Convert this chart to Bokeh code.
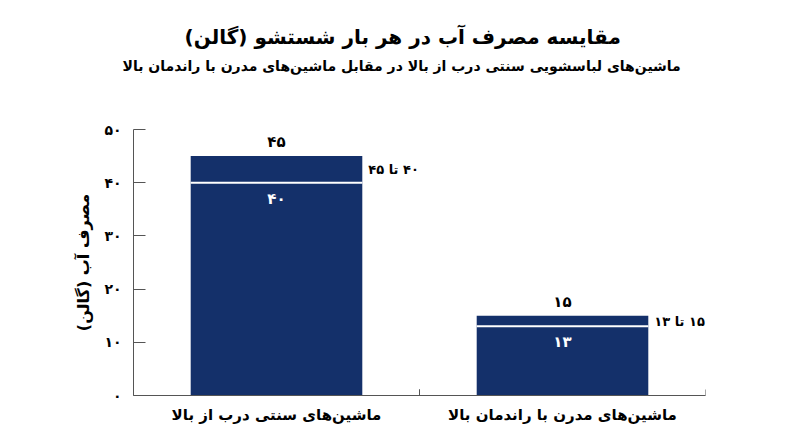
from bokeh.plotting import figure
from bokeh.models import ColumnDataSource, FactorRange, Range1d, FixedTicker, Title
from bokeh.transform import dodge
from bokeh.embed import file_html
from bokeh.resources import INLINE
from bokeh.core.properties import value

# ---------------- data ----------------
categories = ["ماشین‌های سنتی درب از بالا", "ماشین‌های مدرن با راندمان بالا"]
low_values = [40, 13]
high_values = [45, 15]
range_labels = ["۴۰ تا ۴۵", "۱۵ تا ۱۳"]
y_ticks = [0, 10, 20, 30, 40, 50]

title_text = "مقایسه مصرف آب در هر بار شستشو (گالن)"
subtitle_text = "ماشین‌های لباسشویی سنتی درب از بالا در مقابل ماشین‌های مدرن با راندمان بالا"
y_label = "مصرف آب (گالن)"

FA = str.maketrans("0123456789", "۰۱۲۳۴۵۶۷۸۹")
def fa(n):
    return str(n).translate(FA)

RLE, PDF = "\u202b", "\u202c"
def rtl(s):
    return RLE + s + PDF

FONT = "DejaVu Sans"
NAVY = "#14306a"
AXIS = "#555555"

src = ColumnDataSource(dict(
    cat=categories,
    low=low_values,
    high=high_values,
    zero=[0] * len(categories),
    mid=[(a + b) / 2 for a, b in zip(low_values, high_values)],
    low_lbl=[fa(v) for v in low_values],
    high_lbl=[fa(v) for v in high_values],
    rng_lbl=[rtl(s) for s in range_labels],
))

p = figure(width=784, height=431, x_range=FactorRange(*categories),
           y_range=Range1d(0, 50), output_backend="svg", toolbar_location=None,
           title=None, min_border_left=133, min_border_right=79,
           min_border_bottom=36, min_border_top=129)
p.outline_line_color = None
p.xgrid.visible = False
p.ygrid.visible = False
p.background_fill_color = "white"
p.border_fill_color = "white"

# titles (spacer nearest the frame, then subtitle, then title)
spacer = Title(text=" ", text_font=FONT, text_font_size="10px", standoff=39)
sub = Title(text=subtitle_text, align="left", offset=-11, text_font=FONT,
            text_font_size="14px", text_font_style="bold", text_color="black", standoff=7)
ttl = Title(text=rtl(title_text), align="left", offset=51, text_font=FONT,
            text_font_size="20px", text_font_style="bold", text_color="black", standoff=7)
p.add_layout(spacer, "above")
p.add_layout(sub, "above")
p.add_layout(ttl, "above")

# y axis
ya = p.yaxis[0]
ya.ticker = FixedTicker(ticks=y_ticks)
ya.major_label_overrides = {t: fa(t) for t in y_ticks}
ya.major_tick_in = 12
ya.major_tick_out = 0
ya.minor_tick_line_color = None
ya.axis_line_color = AXIS
ya.major_tick_line_color = AXIS
ya.major_label_text_font = FONT
ya.major_label_text_font_size = "14px"
ya.major_label_text_font_style = "bold"
ya.major_label_text_color = "black"
ya.major_label_standoff = 12
ya.axis_label = rtl(y_label)
ya.axis_label_text_font = FONT
ya.axis_label_text_font_size = "16px"
ya.axis_label_text_font_style = "bold"
ya.axis_label_text_color = "black"
ya.axis_label_standoff = 8

# x axis
xa = p.xaxis[0]
xa.axis_line_color = AXIS
xa.major_tick_line_color = None
xa.minor_tick_line_color = None
xa.major_label_standoff = 4
xa.major_label_text_font = FONT
xa.major_label_text_font_size = "15px"
xa.major_label_text_font_style = "bold"
xa.major_label_text_color = "black"

# small ticks at category boundaries (clipped to frame, so only the inner half shows)
for off in (-0.5, 0.5):
    p.rect(x=dodge("cat", off, range=p.x_range), y="zero", width=1, width_units="screen",
           height=12, height_units="screen", source=src, fill_color=AXIS, line_color=None)

# bars
p.vbar(x="cat", bottom=0, top="low", width=0.6, source=src, fill_color=NAVY, line_color=None)
p.vbar(x="cat", bottom="low", top="high", width=0.6, source=src, fill_color=NAVY, line_color=None)
p.rect(x="cat", y="low", width=0.6, height=2, height_units="screen", source=src,
       fill_color="white", line_color=None)

# labels
p.text(x="cat", y="high", text="high_lbl", source=src, text_align="center",
       text_baseline="bottom", y_offset=-5, text_font=value(FONT), text_font_size="15px",
       text_font_style="bold", text_color="black")
p.text(x="cat", y="low", text="low_lbl", source=src, text_align="center",
       text_baseline="top", y_offset=7, text_font=value(FONT), text_font_size="15px",
       text_font_style="bold", text_color="white")
p.text(x=dodge("cat", 0.3, range=p.x_range), y="mid", text="rng_lbl", source=src,
       text_align="left", text_baseline="middle", x_offset=6, text_font=value(FONT),
       text_font_size="13px", text_font_style="bold", text_color="black")

open("out.html", "w").write(file_html(p, INLINE))
